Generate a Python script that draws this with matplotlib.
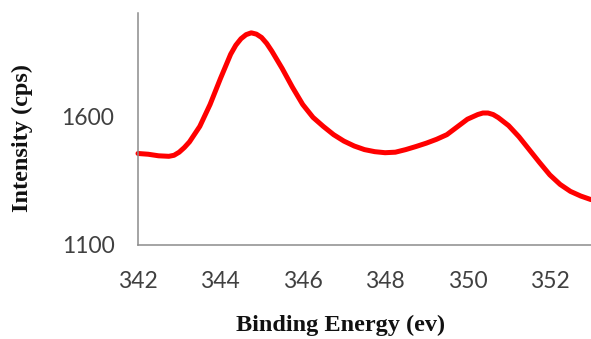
import numpy as np
import matplotlib.pyplot as plt

# Values (binding energy in eV, intensity in cps)
energy = [342.00, 342.25, 342.50, 342.75, 342.875, 343.00, 343.125, 343.25, 343.50, 343.75,
          344.00, 344.25, 344.375, 344.50, 344.625, 344.75, 344.875, 345.00, 345.125, 345.25,
          345.50, 345.75, 346.00, 346.25, 346.50, 346.75, 347.00, 347.25, 347.50, 347.75,
          348.00, 348.25, 348.50, 348.75, 349.00, 349.25, 349.50, 349.75,
          350.00, 350.25, 350.375, 350.50, 350.625, 350.75, 351.00, 351.25, 351.50, 351.75,
          352.00, 352.25, 352.50, 352.75, 353.00]
intensity = [1455, 1452, 1446, 1444, 1448, 1460, 1478, 1500, 1560, 1645,
             1745, 1840, 1875, 1900, 1916, 1923, 1918, 1905, 1882, 1852,
             1785, 1712, 1645, 1595, 1560, 1528, 1503, 1484, 1470, 1462,
             1458, 1460, 1470, 1482, 1495, 1510, 1528, 1558,
             1588, 1606, 1612, 1612, 1606, 1594, 1563, 1520, 1470, 1420,
             1372, 1335, 1308, 1290, 1276]
x_ticks = [342, 344, 346, 348, 350, 352]
y_ticks = [1100, 1600]

fig = plt.figure(figsize=(5.91, 3.39), dpi=100)
ax = fig.add_axes([0.2335, 0.2773, 0.7665, 0.6844])

ax.plot(energy, intensity, color="red", linewidth=3.6, solid_capstyle="round",
        solid_joinstyle="round", clip_on=False)

ax.set_xlim(342, 353)
ax.set_ylim(1100, 2000)
ax.set_xticks(x_ticks)
ax.set_yticks(y_ticks)

for side in ["top", "right"]:
    ax.spines[side].set_visible(False)
for side in ["left", "bottom"]:
    ax.spines[side].set_color("#8c8c8c")
    ax.spines[side].set_linewidth(1.1)

ax.tick_params(axis="both", length=0, labelsize=16.5, labelcolor="#404040")
ax.tick_params(axis="x", pad=19)
ax.tick_params(axis="y", pad=17)
for lbl in ax.get_xticklabels() + ax.get_yticklabels():
    lbl.set_fontfamily("Lato")

ax.set_xlabel("Binding Energy (ev)", fontfamily="Liberation Serif", fontweight="bold",
              fontsize=17.5, color="#111111")
ax.set_ylabel("Intensity (cps)", fontfamily="Liberation Serif", fontweight="bold",
              fontsize=17.5, color="#111111")
ax.xaxis.set_label_coords(0.448, -0.30)
ax.yaxis.set_label_coords(-0.232, 0.46)

plt.savefig("out.png", dpi=100)
